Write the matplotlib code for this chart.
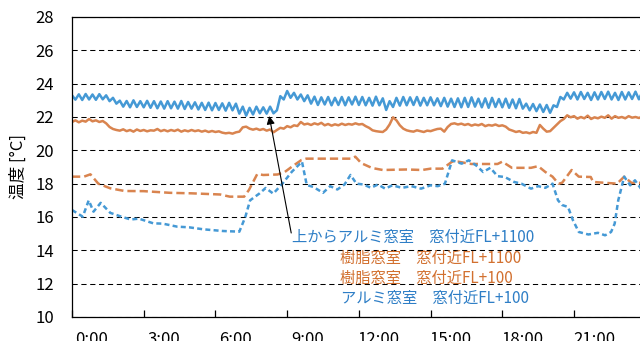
import numpy as np
import matplotlib
matplotlib.use('Agg')
import matplotlib.pyplot as plt
import matplotlib.transforms as mtransforms

plt.rcParams['font.family'] = ['Noto Sans CJK JP', 'DejaVu Sans']

# アルミ窓室 窓付近FL+1100, one value every 1/7 h (rows = hours)
al1100 = [
    23.30, 23.04, 23.36, 23.02, 23.38, 23.05, 23.35,
    23.03, 23.37, 23.06, 23.30, 22.95, 23.15, 22.80,
    22.98, 22.62, 22.96, 22.58, 23.00, 22.60, 22.95,
    22.58, 22.97, 22.55, 22.95, 22.52, 22.93, 22.50,
    22.95, 22.52, 22.92, 22.50, 22.96, 22.48, 22.90,
    22.50, 22.88, 22.45, 22.85, 22.42, 22.86, 22.40,
    22.84, 22.42, 22.82, 22.38, 22.85, 22.40, 22.80,
    22.20, 22.62, 22.08, 22.55, 22.15, 22.62, 22.22,
    22.58, 22.20, 22.62, 22.22, 22.40, 23.25, 23.05,
    23.56, 23.15, 23.45, 23.05, 23.35, 22.95, 23.30,
    22.80, 23.22, 22.72, 23.18, 22.75, 23.20, 22.70,
    23.15, 22.72, 23.20, 22.70, 23.18, 22.75, 23.22,
    22.72, 23.20, 22.70, 23.15, 22.68, 23.22, 22.70,
    23.12, 22.42, 22.95, 22.60, 23.15, 22.68, 23.20,
    22.70, 23.18, 22.72, 23.20, 22.68, 23.15, 22.70,
    23.18, 22.70, 23.12, 22.65, 23.15, 22.62, 23.10,
    22.60, 23.12, 22.58, 23.15, 22.60, 23.18, 22.62,
    23.10, 22.58, 23.12, 22.55, 23.15, 22.60, 23.08,
    22.58, 23.10, 22.55, 23.05, 22.52, 23.08, 22.50,
    22.80, 22.40, 22.78, 22.35, 22.75, 22.30, 22.72,
    22.25, 22.70, 22.60, 23.20, 23.05, 23.45, 23.10,
    23.48, 23.05, 23.50, 23.08, 23.45, 23.02, 23.48,
    23.05, 23.50, 23.08, 23.52, 23.05, 23.45, 23.02,
    23.50, 23.05, 23.48, 23.08, 23.52, 23.06, 23.50,
]

# 樹脂窓室 窓付近FL+1100
ju1100 = [
    21.70, 21.80, 21.68, 21.78, 21.72, 21.88, 21.74,
    21.80, 21.70, 21.76, 21.62, 21.40, 21.28, 21.22,
    21.18, 21.26, 21.15, 21.22, 21.12, 21.25, 21.16,
    21.22, 21.14, 21.20, 21.18, 21.28, 21.15, 21.22,
    21.14, 21.22, 21.16, 21.24, 21.12, 21.20, 21.14,
    21.22, 21.15, 21.20, 21.12, 21.18, 21.10, 21.16,
    21.10, 21.14, 21.06, 21.02, 21.05, 21.00, 21.08,
    21.12, 21.38, 21.42, 21.30, 21.24, 21.30, 21.22,
    21.28, 21.18, 21.25, 21.08, 21.22, 21.35, 21.30,
    21.45, 21.38, 21.50, 21.46, 21.70, 21.55, 21.60,
    21.52, 21.62, 21.55, 21.65, 21.50, 21.58, 21.48,
    21.56, 21.50, 21.60, 21.52, 21.58, 21.54, 21.62,
    21.55, 21.58, 21.45, 21.35, 21.20, 21.15, 21.12,
    21.10, 21.25, 21.55, 21.98, 21.80, 21.50, 21.30,
    21.20, 21.15, 21.12, 21.20, 21.15, 21.10, 21.18,
    21.15, 21.22, 21.28, 21.30, 21.12, 21.40, 21.58,
    21.62, 21.55, 21.60, 21.52, 21.58, 21.48, 21.55,
    21.50, 21.58, 21.45, 21.52, 21.48, 21.55, 21.46,
    21.50, 21.42, 21.25, 21.18, 21.10, 21.15, 21.05,
    21.08, 21.02, 21.10, 21.05, 21.52, 21.30, 21.12,
    21.15, 21.35, 21.55, 21.75, 21.88, 22.10, 21.98,
    22.05, 21.90, 22.00, 21.92, 22.08, 21.88, 21.98,
    21.92, 22.02, 21.95, 22.10, 21.90, 22.05, 21.95,
    22.00, 21.92, 22.05, 21.96, 22.00, 21.94, 22.02,
]
t_1100 = np.arange(len(al1100)) / 7.0

# アルミ窓室 窓付近FL+100
t_al100 = [0.0, 0.45, 0.7, 0.9, 1.2, 1.6, 2.0, 2.45, 2.8, 3.4, 3.8, 4.4, 4.9, 5.5,
           6.3, 7.0, 7.25, 7.45, 7.85, 8.1, 8.42, 8.8, 9.2, 9.62, 9.82, 10.1, 10.5,
           10.8, 11.1, 11.4, 11.65, 11.9, 12.2, 12.5, 12.8, 13.1, 13.4, 13.8, 14.2,
           14.6, 15.0, 15.3, 15.6, 15.9, 16.3, 16.6, 16.9, 17.2, 17.5, 17.8, 18.1,
           18.5, 18.8, 19.2, 19.5, 19.8, 20.1, 20.33, 20.5, 20.75, 20.95, 21.2, 21.6,
           22.0, 22.3, 22.55, 22.7, 22.85, 23.1, 23.35, 23.55, 23.8]
al100 = [16.42, 16.02, 17.0, 16.32, 16.85, 16.25, 16.05, 15.85, 15.9, 15.62, 15.6,
         15.42, 15.38, 15.26, 15.16, 15.12, 16.0, 17.0, 17.42, 17.74, 17.4, 18.0,
         18.72, 19.32, 17.92, 17.8, 17.45, 17.85, 17.65, 17.95, 18.52, 18.0, 17.95,
         17.75, 17.95, 17.7, 17.9, 17.75, 17.85, 17.7, 17.9, 17.85, 18.0, 19.4, 19.2,
         19.4, 19.1, 18.7, 18.95, 18.45, 18.4, 18.1, 18.0, 17.7, 17.85, 17.75, 18.0,
         17.0, 16.72, 16.6, 15.82, 15.1, 14.95, 15.05, 14.9, 15.1, 15.6, 17.0, 18.42,
         17.9, 18.2, 17.7]

# 樹脂窓室 窓付近FL+100
t_ju100 = [0.0, 0.5, 0.77, 1.1, 1.6, 2.2, 3.0, 4.1, 5.0, 6.2, 6.6, 7.2, 7.4, 7.75,
           8.0, 8.6, 8.9, 9.2, 9.6, 9.8, 11.0, 11.7, 11.85, 12.1, 12.55, 13.0, 14.0,
           14.65, 15.0, 15.5, 15.9, 16.15, 16.7, 17.8, 18.0, 18.4, 19.2, 19.5, 19.8,
           20.1, 20.35, 20.5, 20.9, 21.2, 21.7, 21.8, 22.8, 23.1, 23.4, 23.8]
ju100 = [18.42, 18.42, 18.56, 18.0, 17.72, 17.56, 17.55, 17.45, 17.42, 17.35, 17.22,
         17.22, 17.62, 18.58, 18.52, 18.55, 18.7, 19.02, 19.42, 19.5, 19.5, 19.5,
         19.62, 19.23, 18.94, 18.82, 18.85, 18.82, 18.9, 18.9, 19.32, 19.32, 19.18,
         19.18, 19.32, 18.95, 18.95, 19.05, 18.7, 18.42, 18.0, 18.05, 18.82, 18.42,
         18.4, 18.1, 18.0, 18.42, 18.05, 18.05]

hour_ticks = [0, 3, 6, 9, 12, 15, 18, 21]
hour_labels = ['0:00', '3:00', '6:00', '9:00', '12:00', '15:00', '18:00', '21:00']

blue = '#4599D5'
orange = '#D9844F'

fig = plt.figure(figsize=(6.4, 3.41), dpi=100)
ax = fig.add_axes([0.1125, 0.0704, 0.8875, 0.8798])

ax.plot(t_1100, al1100, color=blue, lw=1.8)
ax.plot(t_1100, ju1100, color=orange, lw=1.8)
ax.plot(t_ju100, ju100, color=orange, lw=1.8, dashes=(3.3, 1.6))
ax.plot(t_al100, al100, color=blue, lw=1.8, dashes=(2.0, 1.3))

ax.set_xlim(0, 23.76)
ax.set_ylim(10, 28)
ax.set_yticks(np.arange(10, 29, 2))
ax.yaxis.grid(True, color='k', lw=0.75, linestyle=(0, (5, 3.5)))
ax.set_axisbelow(True)

ax.spines['right'].set_visible(False)
for s in ['left', 'bottom', 'top']:
    ax.spines[s].set_color('k')
    ax.spines[s].set_linewidth(0.9)

ax.tick_params(axis='y', length=0, pad=13, labelsize=12)
ax.set_xticks(hour_ticks)
ax.set_xticklabels(hour_labels)
ax.tick_params(axis='x', direction='in', length=5, width=0.9, pad=10, labelsize=12)
# time labels sit a bit right of their tick marks
shift = mtransforms.ScaledTranslation(20 / 100, 0, fig.dpi_scale_trans)
for lab in ax.get_xticklabels():
    lab.set_transform(lab.get_transform() + shift)

ax.set_ylabel('温度 [°C]', fontsize=12, labelpad=6)

ax.annotate('', xy=(8.25, 22.06), xytext=(9.17, 15.04),
            arrowprops=dict(arrowstyle='-|>', color='k', lw=0.8,
                            mutation_scale=12, shrinkA=0, shrinkB=0))

ax.text(9.21, 14.8, '上からアルミ窓室\u3000窓付近FL+1100', color='#2E7EC6', fontsize=11, va='center')
ax.text(11.22, 13.5, '樹脂窓室\u3000窓付近FL+1100', color='#D2702F', fontsize=11, va='center')
ax.text(11.22, 12.32, '樹脂窓室\u3000窓付近FL+100', color='#D2702F', fontsize=11, va='center')
ax.text(11.25, 11.12, 'アルミ窓室\u3000窓付近FL+100', color='#2E7EC6', fontsize=11, va='center')

fig.savefig('out.png', dpi=100)
